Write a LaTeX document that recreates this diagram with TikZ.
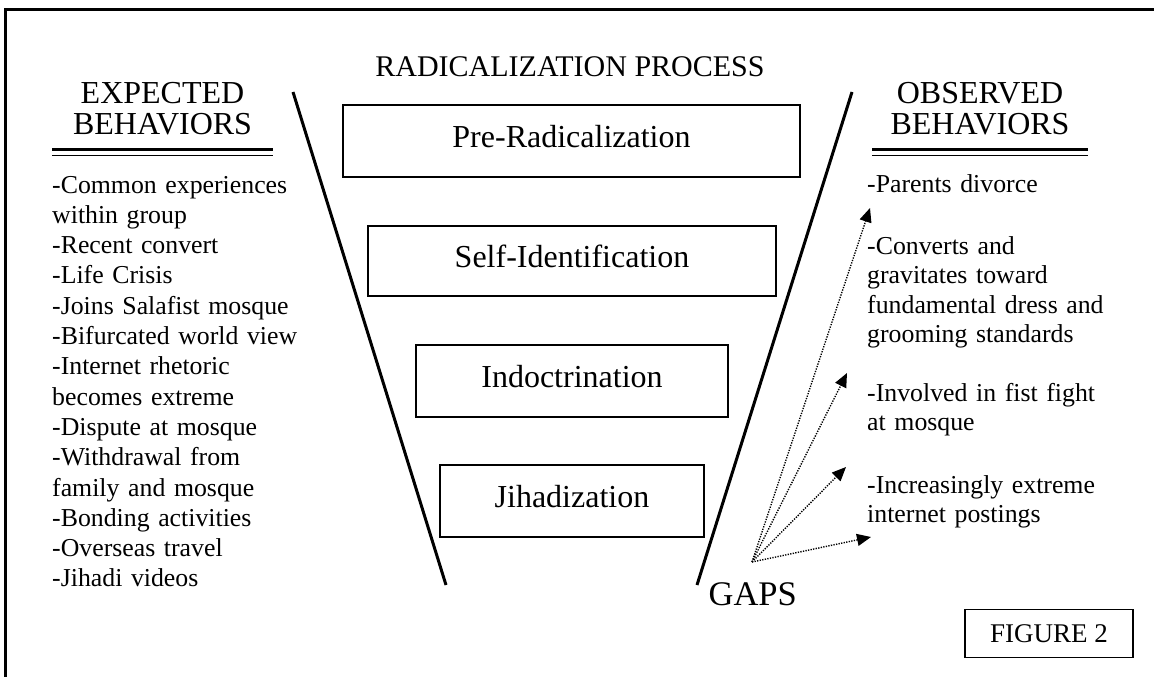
\documentclass[tikz,border=0pt]{standalone}
\usepackage{fontspec}
\setmainfont{Liberation Serif}
\usetikzlibrary{arrows.meta}
\begin{document}
\begin{tikzpicture}[x=1pt,y=-1pt,
  stagebox/.style={draw,line width=1.3pt,inner sep=0pt,text height=22pt,text depth=10pt,
    font=\fontsize{32}{36}\selectfont},
  heading/.style={align=center,text width=260pt,inner sep=0pt,anchor=base,
    font=\fontsize{32}{31}\selectfont},
  listtext/.style={align=left,text width=290pt,inner sep=0pt,anchor=base west,
    font=\fontsize{25.8}{30.3}\selectfont},
  obstext/.style={align=left,text width=290pt,inner sep=0pt,anchor=base west,
    font=\fontsize{25.8}{29.5}\selectfont},
  funnel/.style={line width=3pt},
  rulethick/.style={line width=2.6pt},
  rulethin/.style={line width=1.6pt},
  gaparrow/.style={line width=1.4pt,dash pattern=on 1.3pt off 1.3pt,
    -{Triangle[length=14pt,width=12pt]}}
]
\useasboundingbox (0,0) rectangle (1154,677);
\clip (0,0) rectangle (1154,677);
\fill[white] (0,0) rectangle (1154,677);

% outer frame (runs past the page on the right and bottom)
\draw[line width=2.4pt] (5.5,700) -- (5.5,9.5) -- (1200,9.5);

% title
\node[inner sep=0pt,anchor=base,font=\fontsize{30}{34}\selectfont] (title) at (570,77) {RADICALIZATION PROCESS};

% funnel sides
\coordinate (fl1) at (293,92);
\coordinate (fl2) at (446,585);
\coordinate (fr1) at (852,92);
\coordinate (fr2) at (697,585);
\draw[funnel] (fl1) -- (fl2);
\draw[funnel] (fr1) -- (fr2);

% stages
\node[stagebox,minimum width=457pt,minimum height=72pt] (pre) at (571.5,141) {Pre-Radicalization};
\node[stagebox,minimum width=408pt,minimum height=70pt] (self) at (572,261) {Self-Identification};
\node[stagebox,minimum width=312pt,minimum height=72pt] (indoc) at (572,381) {Indoctrination};
\node[stagebox,minimum width=264pt,minimum height=72pt] (jihad) at (572,501) {Jihadization};

% expected behaviours
\node[heading] (exphead) at (162.5,103) {EXPECTED\\BEHAVIORS};
\draw[rulethick] (52,149.5) -- (273,149.5);
\draw[rulethin] (52,155.5) -- (273,155.5);
\node[listtext] (explist) at (52,193) {-Common experiences\\within group\\-Recent convert\\-Life Crisis\\-Joins Salafist mosque\\-Bifurcated world view\\-Internet rhetoric\\becomes extreme\\-Dispute at mosque\\-Withdrawal from\\family and mosque\\-Bonding activities\\-Overseas travel\\-Jihadi videos};

% observed behaviours
\node[heading] (obshead) at (980,103) {OBSERVED\\BEHAVIORS};
\draw[rulethick] (872,149.5) -- (1088,149.5);
\draw[rulethin] (872,155.5) -- (1088,155.5);
\node[obstext] (obs1) at (867,192) {-Parents divorce};
\node[obstext] (obs2) at (867,254) {-Converts and\\gravitates toward\\fundamental dress and\\grooming standards};
\node[obstext] (obs3) at (867,401) {-Involved in fist fight\\at mosque};
\node[obstext] (obs4) at (867,493) {-Increasingly extreme\\internet postings};

% gaps
\node[inner sep=0pt,anchor=base east,font=\fontsize{34.5}{38}\selectfont] (gaps) at (797,605) {GAPS};
\coordinate (gsrc) at (752,562);
\coordinate (t1) at (870,208);
\coordinate (t2) at (847,373);
\coordinate (t3) at (846,467);
\coordinate (t4) at (871,537);
\draw[gaparrow] (gsrc) -- (t1);
\draw[gaparrow] (gsrc) -- (t2);
\draw[gaparrow] (gsrc) -- (t3);
\draw[gaparrow] (gsrc) -- (t4);

% figure tag
\node[draw,line width=1.3pt,minimum width=168pt,minimum height=48pt,inner sep=0pt,
  font=\fontsize{27}{30}\selectfont] (fig) at (1049,633.5) {FIGURE 2};
\end{tikzpicture}
\end{document}
